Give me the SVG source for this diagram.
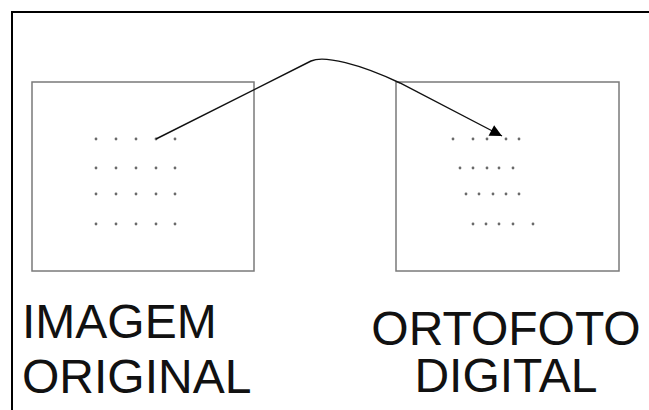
<svg xmlns="http://www.w3.org/2000/svg" width="649" height="410" viewBox="0 0 649 410">
  <style>
    .frame { fill: none; stroke: #000; stroke-width: 2; }
    .box { fill: #fff; stroke: #7a7a7a; stroke-width: 1.5; }
    .pt { fill: #6a6a6a; }
    .link { fill: none; stroke: #111; stroke-width: 1.4; }
    .lbl { font-family: "Liberation Sans", Arial, sans-serif; font-size: 48px; fill: #111; }
  </style>
  <defs>
    <marker id="head" viewBox="0 0 10 10" refX="10" refY="5" markerWidth="16" markerHeight="12" markerUnits="userSpaceOnUse" orient="auto">
      <path d="M0,0 L10,5 L0,10 Z" fill="#000"/>
    </marker>
  </defs>

  <rect class="frame" x="12" y="12" width="700" height="500"/>

  <g id="imagem-original">
    <rect class="box" x="32" y="82" width="222" height="189"/>
    <g class="pt">
      <circle cx="96" cy="139" r="1.4"/><circle cx="116" cy="139" r="1.4"/><circle cx="136" cy="139" r="1.4"/><circle cx="156" cy="139" r="1.4"/><circle cx="175" cy="139" r="1.4"/>
      <circle cx="96" cy="168" r="1.4"/><circle cx="116" cy="168" r="1.4"/><circle cx="136" cy="168" r="1.4"/><circle cx="156" cy="168" r="1.4"/><circle cx="175" cy="168" r="1.4"/>
      <circle cx="96" cy="194" r="1.4"/><circle cx="116" cy="194" r="1.4"/><circle cx="136" cy="194" r="1.4"/><circle cx="156" cy="194" r="1.4"/><circle cx="175" cy="194" r="1.4"/>
      <circle cx="96" cy="224" r="1.4"/><circle cx="116" cy="224" r="1.4"/><circle cx="136" cy="224" r="1.4"/><circle cx="156" cy="224" r="1.4"/><circle cx="175" cy="224" r="1.4"/>
    </g>
    <text class="lbl" x="22" y="338">IMAGEM</text>
    <text class="lbl" x="22" y="393">ORIGINAL</text>
  </g>

  <g id="ortofoto-digital">
    <rect class="box" x="396" y="82" width="223" height="189"/>
    <g class="pt">
      <circle cx="453" cy="139" r="1.4"/><circle cx="473" cy="139" r="1.4"/><circle cx="487" cy="139" r="1.4"/><circle cx="506" cy="139" r="1.4"/><circle cx="519" cy="139" r="1.4"/>
      <circle cx="460" cy="168" r="1.4"/><circle cx="473" cy="168" r="1.4"/><circle cx="487" cy="168" r="1.4"/><circle cx="499" cy="168" r="1.4"/><circle cx="513" cy="168" r="1.4"/>
      <circle cx="466" cy="194" r="1.4"/><circle cx="479" cy="194" r="1.4"/><circle cx="493" cy="194" r="1.4"/><circle cx="506" cy="194" r="1.4"/><circle cx="519" cy="194" r="1.4"/>
      <circle cx="473" cy="224" r="1.4"/><circle cx="486" cy="224" r="1.4"/><circle cx="499" cy="224" r="1.4"/><circle cx="513" cy="224" r="1.4"/><circle cx="533" cy="224" r="1.4"/>
    </g>
    <text class="lbl" x="506" y="345" text-anchor="middle">ORTOFOTO</text>
    <text class="lbl" x="506" y="392" text-anchor="middle">DIGITAL</text>
  </g>

  <g id="connectors">
    <path class="link" d="M156,139 L311,61 C324,55 360,64 400,83 L502,136" marker-end="url(#head)"/>
  </g>
</svg>
